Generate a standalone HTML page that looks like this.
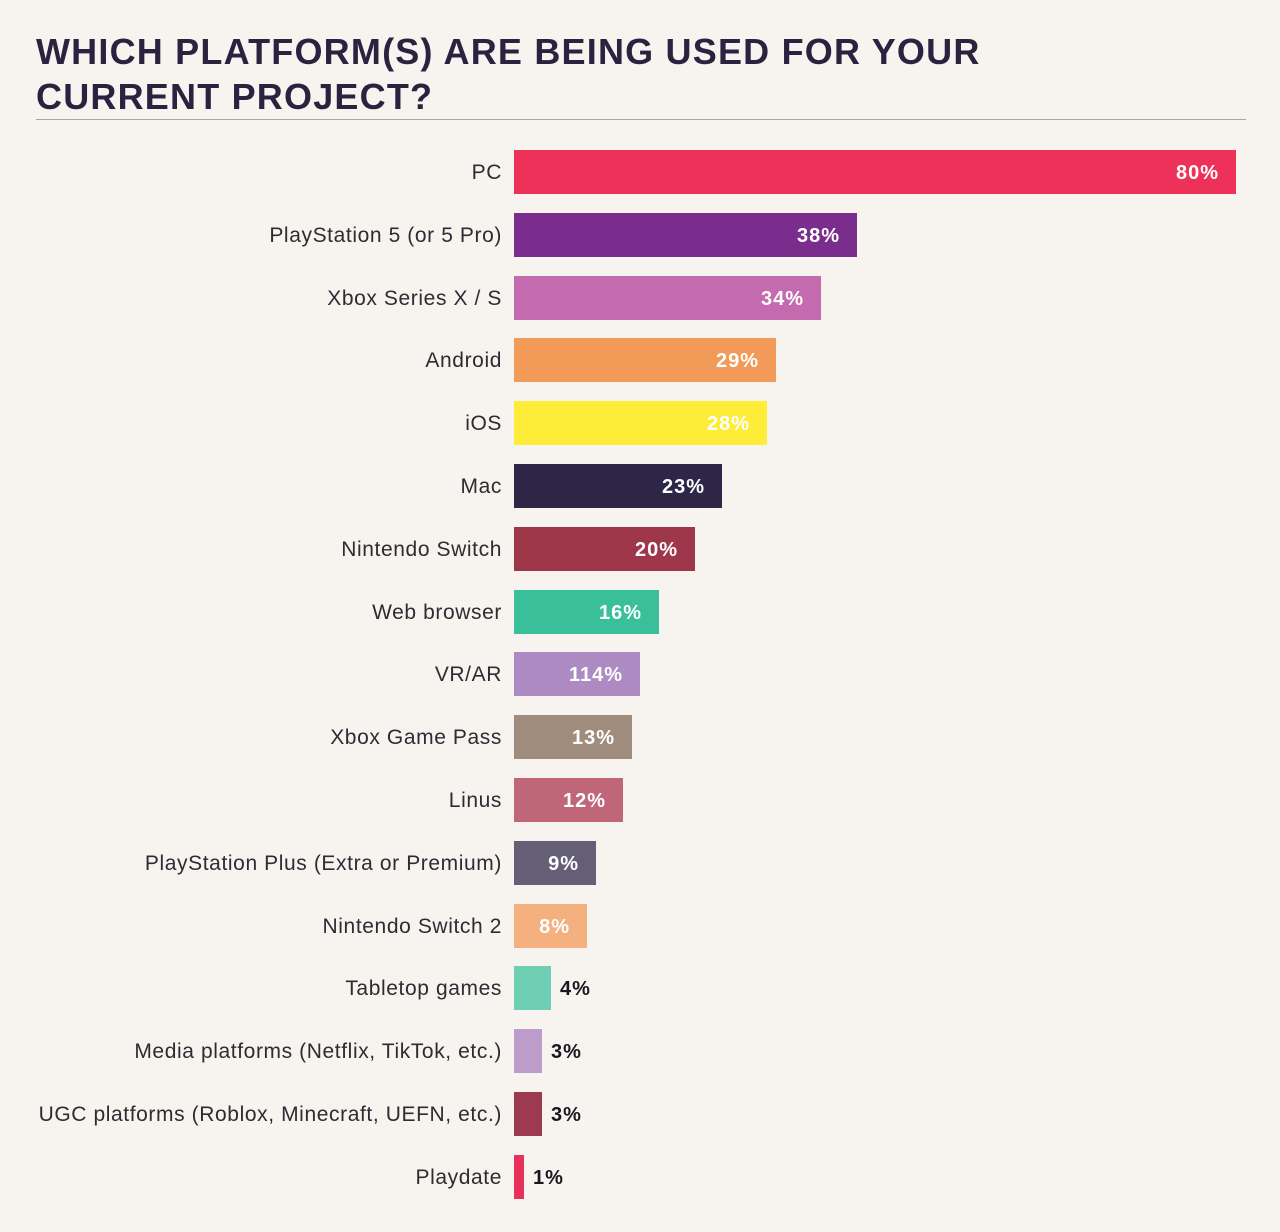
<!DOCTYPE html>
<html><head><meta charset="utf-8"><style>
body{margin:0;width:1280px;height:1232px;background:#f7f3ef;font-family:"Liberation Sans",sans-serif;position:relative;overflow:hidden}
h1{position:absolute;left:36px;top:29px;margin:0;font-size:36px;line-height:45px;font-weight:bold;color:#2a2340;letter-spacing:1.2px}
.rule{position:absolute;left:36px;top:119px;width:1210px;height:1px;background:#a9a4a4}
.lab{position:absolute;right:778px;font-size:21px;letter-spacing:0.6px;color:#2f2b33;height:44px;line-height:46px;white-space:nowrap}
.bar{position:absolute;left:514px;height:44px}
.v{position:absolute;font-size:20px;letter-spacing:1px;font-weight:bold;height:44px;line-height:46px;color:#fff}
</style></head><body>
<h1>WHICH PLATFORM(S) ARE BEING USED FOR YOUR<br>CURRENT PROJECT?</h1>
<div class="rule"></div>
<div id="c"></div>
<script>
var d=[["PC",1236,"#ee3158","80%"],["PlayStation 5 (or 5 Pro)",857,"#7b2d8e","38%"],["Xbox Series X / S",821,"#c46aaf","34%"],["Android",776,"#f29a57","29%"],["iOS",767,"#fdec38","28%"],["Mac",722,"#2d2646","23%"],["Nintendo Switch",695,"#9f374a","20%"],["Web browser",659,"#39bf9a","16%"],["VR/AR",640,"#ae8ac3","114%"],["Xbox Game Pass",632,"#a08c7d","13%"],["Linus",623,"#bf6679","12%"],["PlayStation Plus (Extra or Premium)",596,"#645e77","9%"],["Nintendo Switch 2",587,"#f5b07f","8%"],["Tabletop games",551,"#6fcfb4","4%",1],["Media platforms (Netflix, TikTok, etc.)",542,"#bc9ccb","3%",1],["UGC platforms (Roblox, Minecraft, UEFN, etc.)",542,"#9e3a4f","3%",1],["Playdate",524,"#e8315a","1%",1]];
var h="";d.forEach(function(r,i){var t=Math.round(150+i*62.8);
h+='<div class="lab" style="top:'+t+'px">'+r[0]+'</div><div class="bar" style="top:'+t+'px;width:'+(r[1]-514)+'px;background:'+r[2]+'"></div>';
if(r[4])h+='<div class="v" style="top:'+t+'px;left:'+(r[1]+9)+'px;color:#1a1620">'+r[3]+'</div>';
else h+='<div class="v" style="top:'+t+'px;right:'+(1280-r[1]+17)+'px">'+r[3]+'</div>';});
document.getElementById("c").innerHTML=h;
</script>
</body></html>
